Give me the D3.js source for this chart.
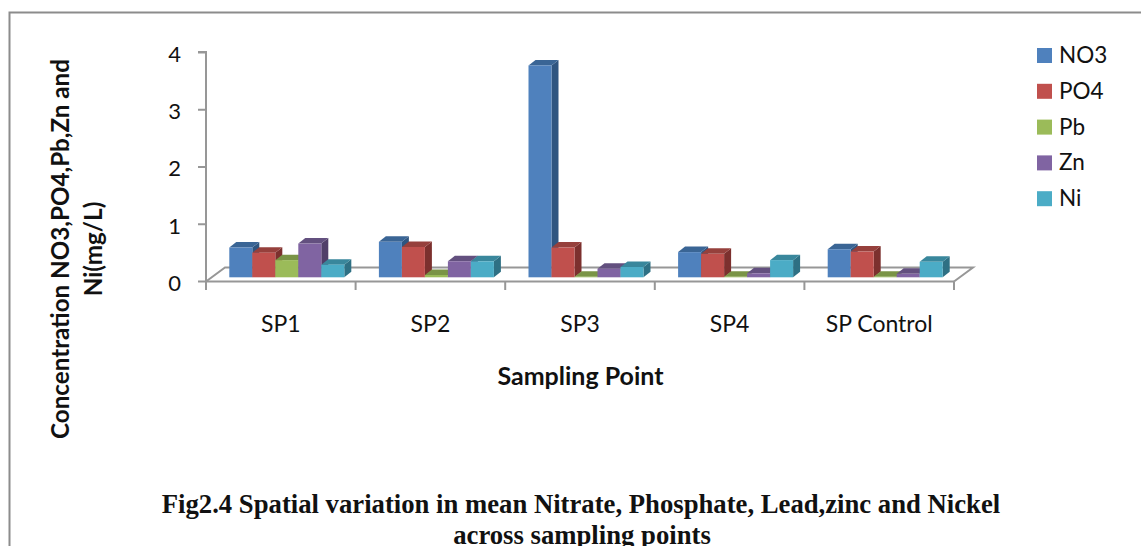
<!DOCTYPE html>
<html>
<head>
<meta charset="utf-8">
<script src="https://cdnjs.cloudflare.com/ajax/libs/d3/7.8.5/d3.min.js"></script>
<style>
  html, body { margin: 0; padding: 0; background: #fff; overflow: hidden; }
  text { font-family: Lato, "Open Sans", sans-serif; fill: #111; }
</style>
</head>
<body>
<script>
// Data
const categories = ['SP1', 'SP2', 'SP3', 'SP4', 'SP Control'];
const seriesNames = ['NO3', 'PO4', 'Pb', 'Zn', 'Ni'];
const no3 = [0.52, 0.62, 3.70, 0.44, 0.49];
const po4 = [0.43, 0.53, 0.52, 0.41, 0.45];
const pb = [0.30, 0.04, 0.01, 0.01, 0.01];
const zn = [0.59, 0.28, 0.15, 0.07, 0.06];
const ni = [0.22, 0.28, 0.18, 0.30, 0.27];
const seriesValues = [no3, po4, pb, zn, ni];
const yTicks = [0, 1, 2, 3, 4];

const colors = ['#4f81bd', '#c0504d', '#9bbb59', '#8064a2', '#4bacc6'];
const topColors = ['#3a6595', '#96403c', '#7a9446', '#63507f', '#39879c'];
const sideColors = ['#2f5580', '#7c302e', '#657b39', '#513f69', '#2e7084'];

const width = 1141;
const height = 546;

const svg = d3.select('body')
  .append('svg')
  .attr('width', width)
  .attr('height', height);

// Page frame around the chart
svg.append('path')
  .attr('d', `M9.5,${height} V12.5 H${width}`)
  .attr('fill', 'none')
  .attr('stroke', '#8c8c8c')
  .attr('stroke-width', 2);

// Scales
const xScale = d3.scaleBand().domain(categories).range([206, 954]);
const yScale = d3.scaleLinear().domain([0, 4]).range([281, 52]);
const seriesScale = d3.scaleBand().domain(seriesNames).range([23.3, 138.3]);

// Floor of the 3d chart
const floorDx = 19;
const floorDy = -14;
const barDx = 7;
const barDy = -5.5;
const barBase = -3.7; // bars stand a little behind the front edge

const axisColor = '#979797';
svg.append('path')
  .attr('d', `M206,281.5 L${206 + floorDx},${281.5 + floorDy} H${954 + floorDx} L954,281.5`)
  .attr('fill', 'none')
  .attr('stroke', axisColor)
  .attr('stroke-width', 2);

// Axes
const yAxis = d3.axisLeft(yScale)
  .tickValues(yTicks)
  .tickSize(8)
  .tickPadding(17)
  .tickFormat(d3.format('d'));
const yAxisG = svg.append('g')
  .attr('transform', 'translate(206,0)')
  .call(yAxis);

const xAxis = d3.axisBottom(xScale)
  .tickSize(0)
  .tickPadding(34);
const xAxisG = svg.append('g')
  .attr('transform', 'translate(0,281.5)')
  .call(xAxis);

// Ticks between the categories
svg.selectAll('.x-sep')
  .data(d3.range(categories.length + 1))
  .enter()
  .append('line')
  .attr('class', 'x-sep')
  .attr('x1', i => xScale.range()[0] + i * xScale.step())
  .attr('x2', i => xScale.range()[0] + i * xScale.step())
  .attr('y1', 281.5)
  .attr('y2', 290)
  .attr('stroke', axisColor)
  .attr('stroke-width', 2);

[yAxisG, xAxisG].forEach(g => {
  g.selectAll('path, line').attr('stroke', axisColor).attr('stroke-width', 2);
  g.selectAll('text').attr('font-family', null);
});
yAxisG.selectAll('text').style('font-size', '22px').attr('dy', '0.42em');
xAxisG.selectAll('text').style('font-size', '23px');
yAxisG.select('.domain').attr('d', 'M-8,52 H0 V281.5');
xAxisG.select('.domain').attr('d', 'M206,0 H954');

// Bars: one front, one top and one side face per value
const groups = svg.selectAll('.group')
  .data(categories)
  .enter()
  .append('g')
  .attr('class', 'group')
  .attr('transform', d => `translate(${xScale(d)},0)`);

groups.each(function (cat, c) {
  const g = d3.select(this);
  seriesNames.forEach((name, s) => {
    const v = seriesValues[s][c];
    const x0 = seriesScale(name);
    const w = seriesScale.bandwidth();
    const base = yScale(0) + barBase;
    const top = yScale(v) + barBase;
    g.append('path')
      .attr('d', `M${x0 + w},${top} l${barDx},${barDy} V${base + barDy} L${x0 + w},${base} Z`)
      .attr('fill', sideColors[s]);
    g.append('path')
      .attr('d', `M${x0},${top} l${barDx},${barDy} h${w} l${-barDx},${-barDy} Z`)
      .attr('fill', topColors[s]);
    g.append('rect')
      .attr('x', x0)
      .attr('y', top)
      .attr('width', w)
      .attr('height', base - top)
      .attr('fill', colors[s]);
  });
});

// Legend
const legend = svg.selectAll('.legend-item')
  .data(seriesNames)
  .enter()
  .append('g')
  .attr('class', 'legend-item')
  .attr('transform', (d, i) => `translate(1037,${48 + i * 35.8})`);

legend.append('rect')
  .attr('width', 15)
  .attr('height', 15)
  .attr('fill', (d, i) => colors[i]);

legend.append('text')
  .attr('x', 22)
  .attr('y', 15)
  .style('font-size', '22.5px')
  .text(d => d);

// Axis titles
svg.append('text')
  .attr('x', 580.5)
  .attr('y', 385)
  .attr('text-anchor', 'middle')
  .style('font-size', '25px')
  .style('font-weight', 'bold')
  .text('Sampling Point');

const yTitle = svg.append('text')
  .attr('transform', 'translate(69,249) rotate(-90)')
  .attr('text-anchor', 'middle')
  .style('font-size', '24.2px')
  .style('font-weight', 'bold');
yTitle.append('tspan').attr('x', 0).attr('y', 0).text('Concentration NO3,PO4,Pb,Zn and');
yTitle.append('tspan').attr('x', 0).attr('y', 33).text('Ni(mg/L)');

// Figure caption, its second line runs off the bottom like the source
const caption = svg.append('text')
  .attr('text-anchor', 'middle')
  .style('font-family', '"Liberation Serif", serif')
  .style('font-size', '26.7px')
  .style('font-weight', 'bold');
caption.append('tspan').attr('x', 581).attr('y', 513).text('Fig2.4 Spatial variation in mean Nitrate, Phosphate, Lead,zinc and Nickel');
caption.append('tspan').attr('x', 582).attr('y', 544).text('across sampling points');
</script>
</body>
</html>
